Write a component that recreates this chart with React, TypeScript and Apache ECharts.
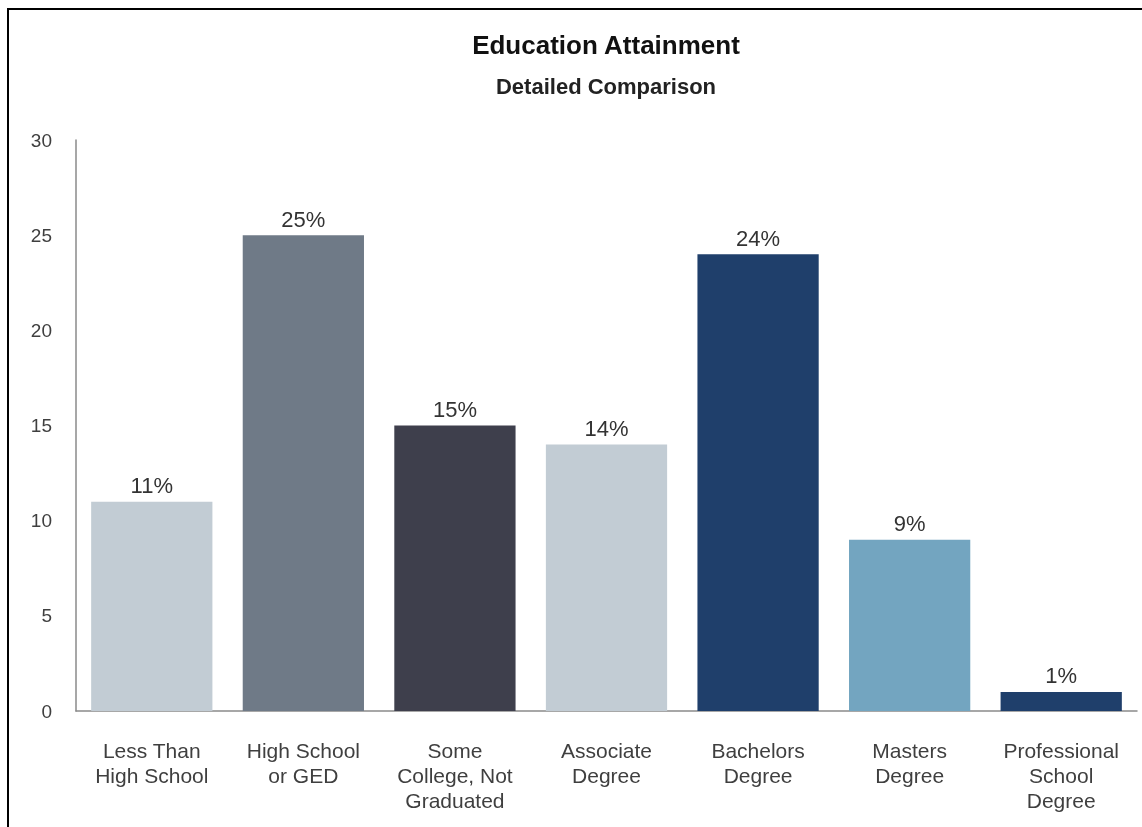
import React, { useEffect, useRef } from "react";
import * as echarts from "echarts";

const categories = [
  "Less Than\nHigh School",
  "High School\nor GED",
  "Some\nCollege, Not\nGraduated",
  "Associate\nDegree",
  "Bachelors\nDegree",
  "Masters\nDegree",
  "Professional\nSchool\nDegree",
];
const values = [11, 25, 15, 14, 24, 9, 1];
const barColors = ["#c2ccd4", "#6f7a87", "#3e3f4c", "#c2ccd4", "#1f3f6b", "#73a5c0", "#1f3f6b"];
const titleText = "Education Attainment";
const subtitleText = "Detailed Comparison";

const FONT = "'Liberation Sans', Arial, Helvetica, sans-serif";

export default function App() {
  const ref = useRef<HTMLDivElement>(null);
  useEffect(() => {
    if (!ref.current) return;
    const chart = echarts.init(ref.current, undefined, { renderer: "svg" });
    chart.setOption({
      animation: false,
      backgroundColor: "transparent",
      textStyle: { fontFamily: FONT },
      graphic: [
        {
          type: "text",
          x: 606,
          y: 45,
          style: {
            text: titleText,
            font: `bold 26px ${FONT}`,
            fill: "#111",
            align: "center",
            verticalAlign: "middle",
          },
        },
        {
          type: "text",
          x: 606,
          y: 86,
          style: {
            text: subtitleText,
            font: `bold 22px ${FONT}`,
            fill: "#222",
            align: "center",
            verticalAlign: "middle",
          },
        },
      ],
      grid: { left: 76, right: 5, top: 140, bottom: 116, containLabel: false },
      xAxis: {
        type: "category",
        data: categories,
        axisLine: { show: true, lineStyle: { color: "#8a8a8a", width: 1.5 } },
        axisTick: { show: false },
        axisLabel: {
          interval: 0,
          color: "#3f3f3f",
          fontSize: 21,
          lineHeight: 25,
          margin: 27,
          fontFamily: FONT,
        },
      },
      yAxis: {
        type: "value",
        min: 0,
        max: 30,
        interval: 5,
        splitLine: { show: false },
        axisLine: { show: true, lineStyle: { color: "#8a8a8a", width: 1.5 } },
        axisTick: { show: false },
        axisLabel: { color: "#3f3f3f", fontSize: 19, margin: 24, fontFamily: FONT },
      },
      series: [
        {
          type: "bar",
          data: values.map((v, i) => ({ value: v, itemStyle: { color: barColors[i] } })),
          barCategoryGap: "20%",
          label: {
            show: true,
            position: "top",
            distance: 5,
            formatter: "{c}%",
            color: "#333",
            fontSize: 22,
            fontFamily: FONT,
          },
        },
      ],
    });
    return () => chart.dispose();
  }, []);

  return (
    <div>
      <div
        style={{
          position: "fixed",
          left: 7,
          top: 8,
          width: 1200,
          height: 900,
          borderTop: "2px solid #000",
          borderLeft: "2px solid #000",
          boxSizing: "border-box",
        }}
      />
      <div
        ref={ref}
        style={{ position: "fixed", left: 0, top: 0, width: 1142, height: 827 }}
      />
    </div>
  );
}
